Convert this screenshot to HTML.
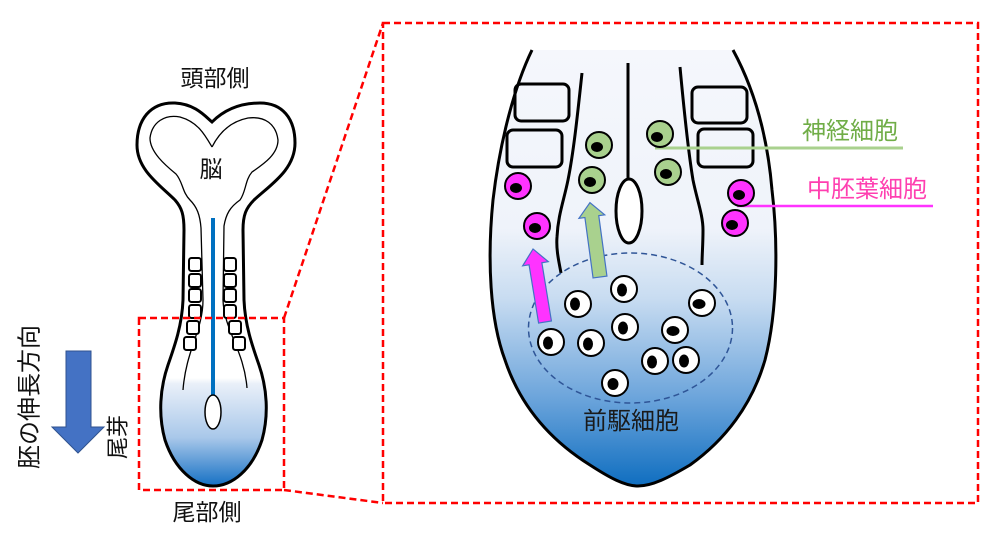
<!DOCTYPE html>
<html><head><meta charset="utf-8"><style>
html,body{margin:0;padding:0;background:#fff;}
svg{display:block;}
text{font-family:"Liberation Sans","Noto Sans CJK JP",sans-serif;}
</style></head><body>
<svg width="1000" height="538" viewBox="0 0 1000 538" xmlns="http://www.w3.org/2000/svg">
<defs>
<linearGradient id="gs" gradientUnits="userSpaceOnUse" x1="0" y1="378" x2="0" y2="486">
<stop offset="0" stop-color="#ffffff"/>
<stop offset="0.05" stop-color="#eaf0f9"/>
<stop offset="0.55" stop-color="#a9c8ea"/>
<stop offset="1" stop-color="#1570c4"/>
</linearGradient>
<linearGradient id="gb" gradientUnits="userSpaceOnUse" x1="0" y1="50" x2="0" y2="486">
<stop offset="0" stop-color="#f5f7fc"/>
<stop offset="0.41" stop-color="#eff3fa"/>
<stop offset="0.57" stop-color="#c8dcf1"/>
<stop offset="0.8" stop-color="#6ba4db"/>
<stop offset="1" stop-color="#0f6ec0"/>
</linearGradient>
</defs>

<!-- small embryo -->
<path d="M212,122 C205,116 195,104 175,103 C150,102 137,120 137,145 C137,170 160,185 175,200 C182,208 184,215 184,230 L183,300 C182,325 175,345 168,365 C160,388 158,415 165,440 C175,470 195,486 213,486 C232,486 252,470 262,440 C269,415 267,388 259,365 C252,345 245,325 244,300 L243,230 C243,215 246,208 254,200 C270,185 295,170 295,143 C295,118 282,103 260,103 C235,103 220,114 212,122 Z" fill="url(#gs)" stroke="#000" stroke-width="3"/>
<path d="M212,147 C205,135 198,122 180,117 C165,114 152,122 150,138 C150,152 165,165 176,174 C183,182 182,192 190,200 C197,207 200,215 201,228 L203,300 C203,330 186,350 183,390" fill="none" stroke="#000" stroke-width="1.3"/>
<path d="M212,147 C218,135 228,122 248,118 C265,116 276,124 278,140 C278,155 262,165 252,172 C245,180 246,192 240,200 C230,207 226,214 224,226 L223,300 C224,330 244,350 247,388" fill="none" stroke="#000" stroke-width="1.3"/>
<g fill="#fff" stroke="#000" stroke-width="2">
<rect x="189" y="258" width="12" height="13" rx="2.5"/>
<rect x="189" y="274" width="12" height="13" rx="2.5"/>
<rect x="189" y="289" width="12" height="13" rx="2.5"/>
<rect x="189" y="305" width="12" height="13" rx="2.5"/>
<rect x="187" y="321" width="12" height="13" rx="2.5"/>
<rect x="184" y="337" width="12" height="13" rx="2.5"/>
<rect x="224" y="258" width="12" height="13" rx="2.5"/>
<rect x="224" y="274" width="12" height="13" rx="2.5"/>
<rect x="224" y="289" width="12" height="13" rx="2.5"/>
<rect x="224" y="305" width="12" height="13" rx="2.5"/>
<rect x="229" y="321" width="12" height="13" rx="2.5"/>
<rect x="233" y="337" width="12" height="13" rx="2.5"/>
</g>
<line x1="213" y1="218" x2="213" y2="396" stroke="#0070c0" stroke-width="4"/>
<ellipse cx="213" cy="412" rx="8" ry="17" fill="#fff" stroke="#000" stroke-width="1.5"/>

<text x="215" y="86" font-size="23" text-anchor="middle" fill="#111">頭部側</text>
<text x="211" y="177" font-size="23" text-anchor="middle" fill="#111">脳</text>
<text x="207" y="520" font-size="23" text-anchor="middle" fill="#111">尾部側</text>
<text transform="translate(30,397) rotate(-90)" font-size="24" text-anchor="middle" dominant-baseline="central" fill="#111">胚の伸長方向</text>
<text transform="translate(118,437) rotate(-90)" font-size="22" text-anchor="middle" dominant-baseline="central" fill="#111">尾芽</text>

<!-- blue arrow -->
<polygon points="66,351 91,351 91,427 104,427 78,453 52,427 66,427" fill="#4472c4" stroke="#2f528f" stroke-width="1"/>

<!-- red dashed boxes -->
<g fill="none" stroke="#ff0000" stroke-width="2.5" stroke-dasharray="7,4">
<rect x="139" y="318" width="145" height="172"/>
<rect x="383" y="23" width="595" height="480"/>
<line x1="284" y1="318" x2="383" y2="23"/>
<line x1="284" y1="490" x2="383" y2="503"/>
</g>

<!-- big figure -->
<path d="M532,50 L733,50 C752,85 767,130 772,190 C778,240 778,310 765,360 C752,405 725,440 690,465 C668,478 652,486 638,486 C625,486 610,478 590,465 C550,440 520,405 505,360 C490,320 487,260 493,200 C500,140 515,85 532,50 Z" fill="url(#gb)"/>
<path d="M532,50 C515,85 500,140 493,200 C487,260 490,320 505,360 C520,405 550,440 590,465 C610,478 625,486 638,486 C652,486 668,478 690,465 C725,440 752,405 765,360 C778,310 778,240 772,190 C767,130 752,85 733,50" fill="none" stroke="#000" stroke-width="3"/>
<g fill="none" stroke="#000" stroke-width="3">
<path d="M582,73 C578,110 574,150 568,180 C564,200 558,215 557,237 C556,250 559,262 561,273"/>
<path d="M680,67 C684,110 688,150 693,180 C697,200 703,215 703,230 C703,245 702,255 702,265"/>
<line x1="628" y1="63" x2="628" y2="179"/>
</g>
<ellipse cx="629" cy="211" rx="13" ry="32" fill="#fff" stroke="#000" stroke-width="3"/>
<g fill="none" stroke="#000" stroke-width="3">
<rect x="515" y="84" width="54" height="37" rx="6"/>
<rect x="507" y="130" width="55" height="37" rx="6"/>
<rect x="692" y="87" width="55" height="36" rx="6"/>
<rect x="698" y="129" width="55" height="38" rx="6"/>
</g>

<!-- label lines -->
<line x1="655" y1="148" x2="903" y2="148" stroke="#a9d18e" stroke-width="3"/>
<line x1="737" y1="206" x2="933" y2="206" stroke="#ff33ff" stroke-width="2.5"/>

<!-- green cells -->
<g stroke="#000" stroke-width="2">
<circle cx="599" cy="145" r="13" fill="#a9d18e"/>
<circle cx="592" cy="180" r="13" fill="#a9d18e"/>
<circle cx="660" cy="134" r="13" fill="#a9d18e"/>
<circle cx="668" cy="172" r="13" fill="#a9d18e"/>
<circle cx="518" cy="186" r="13" fill="#ff33ff"/>
<circle cx="537" cy="226" r="13" fill="#ff33ff"/>
<circle cx="741" cy="193" r="13" fill="#ff33ff"/>
<circle cx="735" cy="223" r="13" fill="#ff33ff"/>
</g>
<g fill="#000">
<ellipse cx="597" cy="147" rx="6" ry="5"/>
<ellipse cx="590" cy="182" rx="6" ry="5"/>
<ellipse cx="657" cy="137" rx="6" ry="5"/>
<ellipse cx="666" cy="174" rx="6" ry="5"/>
<ellipse cx="516" cy="188" rx="6" ry="5"/>
<ellipse cx="535" cy="228" rx="6" ry="5"/>
<ellipse cx="739" cy="195" rx="6" ry="5"/>
<ellipse cx="732" cy="225" rx="6" ry="5"/>
</g>

<!-- dashed ellipse -->
<ellipse cx="630.5" cy="328" rx="102" ry="75" fill="none" stroke="#2f5597" stroke-width="1.5" stroke-dasharray="6,4"/>

<!-- arrows -->
<polygon transform="translate(600,277) rotate(-7.7)" points="-7,0 7,0 7,-61 13,-61 0,-75 -13,-61 -7,-61" fill="#a9d18e" stroke="#4472c4" stroke-width="1.2"/>
<polygon transform="translate(545,322) rotate(-9.3)" points="-6.5,0 6.5,0 6.5,-59 13,-59 0,-74 -13,-59 -6.5,-59" fill="#ff33ff" stroke="#4472c4" stroke-width="1.2"/>

<!-- progenitor cells -->
<g fill="#fff" stroke="#000" stroke-width="2">
<circle cx="578" cy="304" r="13"/>
<circle cx="624" cy="289" r="13"/>
<circle cx="702" cy="303" r="13"/>
<circle cx="551" cy="342" r="13"/>
<circle cx="591" cy="343" r="13"/>
<circle cx="625" cy="327" r="13"/>
<circle cx="675" cy="330" r="13"/>
<circle cx="655" cy="361" r="13"/>
<circle cx="686" cy="360" r="13"/>
<circle cx="615" cy="383" r="13"/>
</g>
<g fill="#000">
<ellipse cx="575" cy="304" rx="5" ry="6.5"/>
<ellipse cx="622" cy="290" rx="5" ry="6.5"/>
<ellipse cx="699" cy="304" rx="6.5" ry="5"/>
<ellipse cx="548" cy="343" rx="5" ry="6.5"/>
<ellipse cx="588" cy="344" rx="5" ry="6.5"/>
<ellipse cx="623" cy="328" rx="5" ry="6.5"/>
<ellipse cx="673" cy="331" rx="6.5" ry="5"/>
<ellipse cx="652" cy="362" rx="5" ry="6.5"/>
<ellipse cx="684" cy="361" rx="5" ry="6.5"/>
<ellipse cx="613" cy="384" rx="5.5" ry="6"/>
</g>

<text x="631" y="429" font-size="24" text-anchor="middle" fill="#1a1a1a">前駆細胞</text>
<text x="802" y="139" font-size="24" fill="#70ad47">神経細胞</text>
<text x="807" y="197" font-size="24" fill="#ff3fb0">中胚葉細胞</text>
</svg>
</body></html>
